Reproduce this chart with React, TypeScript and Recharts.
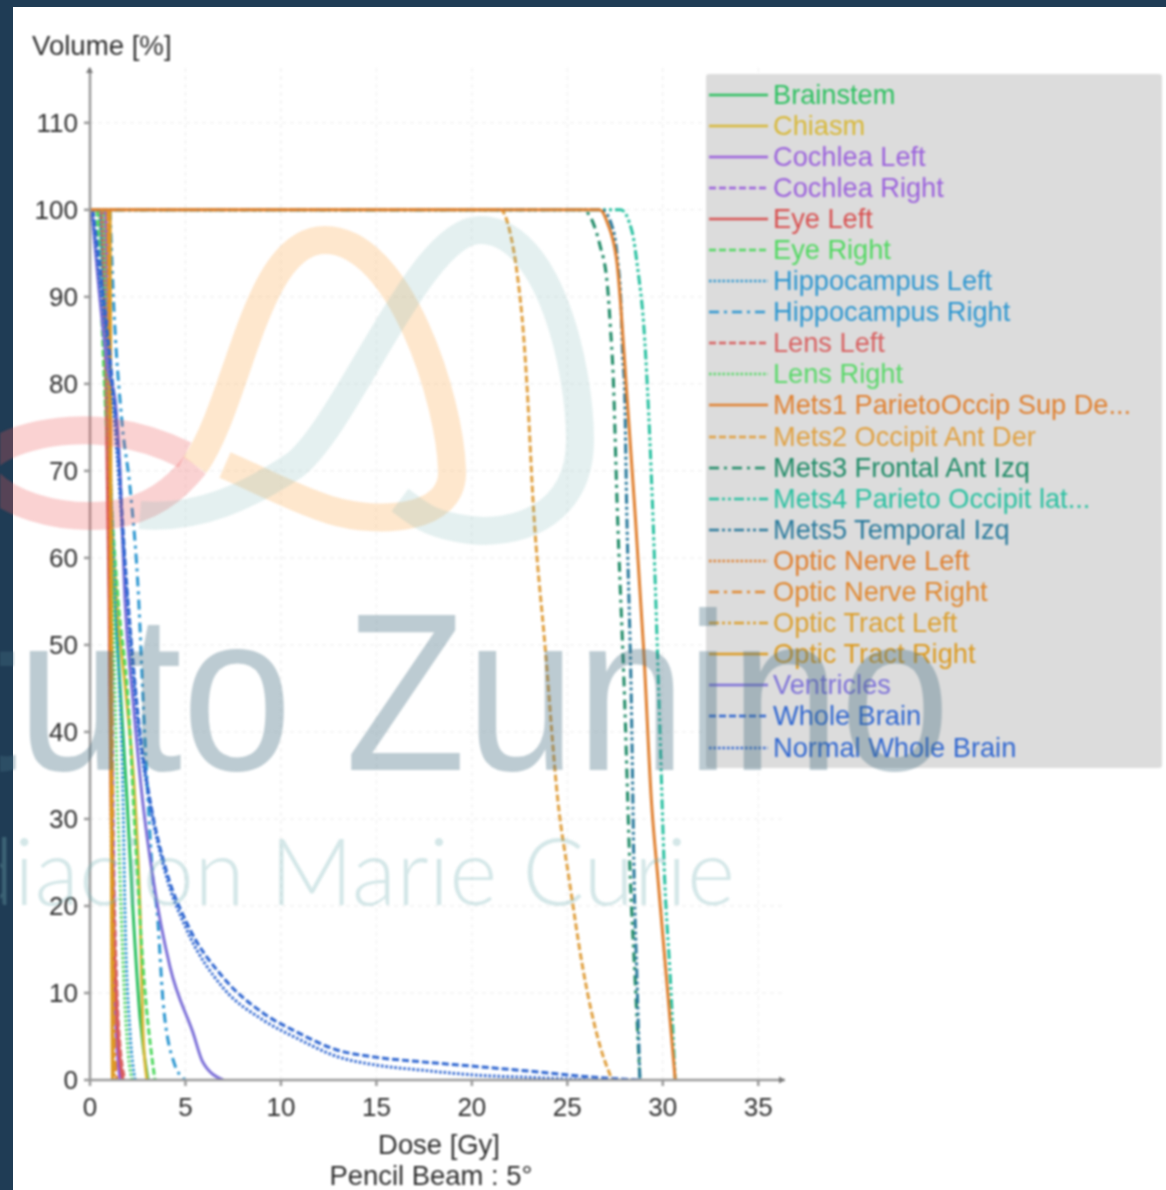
import { CartesianGrid, Legend, Line, LineChart, XAxis, YAxis } from "recharts";

const FONT = '"Liberation Sans", Arial, sans-serif';
const TEXT = "#2e2e2e";

const doseTicks = [0, 5, 10, 15, 20, 25, 30, 35];
const volumeTicks = [0, 10, 20, 30, 40, 50, 60, 70, 80, 90, 100, 110];

const brainstemDose = [0.52, 0.73, 0.94, 1.1, 1.31, 1.62, 1.94, 2.25, 2.62, 3.04];
const brainstemVolume = [100, 89.7, 78.2, 66.7, 55.2, 43.7, 32.2, 19.5, 7.2, 0];
const chiasmDose = [0.5, 0.8, 0.95, 1.1, 1.4, 1.9, 2.36, 2.62, 2.78, 2.99];
const chiasmVolume = [100, 90, 78, 67, 55, 44, 32, 19.5, 5.4, 0];
const cochleaLeftDose = [0.79, 0.94, 1.05, 1.15, 1.31, 1.57];
const cochleaLeftVolume = [100, 78, 55, 32, 9, 0];
const cochleaRightDose = [0.84, 1, 1.1, 1.2, 1.4, 1.65];
const cochleaRightVolume = [100, 78, 55, 32, 9, 0];
const eyeLeftDose = [0.6, 0.85, 1, 1.1, 1.2, 1.45, 1.73];
const eyeLeftVolume = [100, 78, 55, 32, 21, 6, 0];
const eyeRightDose = [0.37, 0.58, 0.79, 1.1, 1.47, 1.99, 2.36, 2.78, 3.4];
const eyeRightVolume = [100, 89.7, 78.2, 66.7, 55.2, 43.7, 28.4, 13, 0];
const hippoLeftDose = [0.52, 0.94, 1.31, 1.57, 1.73, 1.83, 2.1, 2.36];
const hippoLeftVolume = [100, 78.2, 55.2, 43.7, 32.2, 19.5, 5.4, 0];
const hippoRightDose = [1.05, 1.2, 1.68, 2.1, 2.55, 2.78, 3.04, 3.3, 3.51, 3.82, 4.4, 4.98];
const hippoRightVolume = [100, 91.2, 75.5, 68, 55.2, 43.7, 32.2, 23, 19.5, 9.2, 2, 0];
const lensLeftDose = [0.65, 0.88, 1.02, 1.12, 1.25, 1.5, 1.83];
const lensLeftVolume = [100, 78, 55, 32, 21, 6, 0];
const lensRightDose = [0.7, 0.95, 1.2, 1.45, 1.7, 2, 2.2];
const lensRightVolume = [100, 78, 55, 32, 15, 3, 0];
const mets1Dose = [0, 26.7, 27.1, 27.6, 27.8, 28.1, 28.5, 29, 29.4, 29.75, 30.2, 30.65];
const mets1Volume = [100, 100, 98.5, 93.9, 88.9, 79.3, 66.7, 49.4, 32.2, 23, 11.5, 0];
const mets2Dose = [0, 21.05, 21.5, 22, 22.4, 22.7, 22.9, 23.2, 23.85, 24.5, 25.1, 25.8, 26.7, 27.35];
const mets2Volume = [100, 100, 100, 97.4, 92.2, 85.8, 79.3, 66.7, 49.4, 32.2, 23, 13, 4, 0];
const mets3Dose = [0, 25.8, 26.35, 26.7, 27.1, 27.25, 27.4, 27.6, 28, 28.3, 28.55, 28.8];
const mets3Volume = [100, 100, 98.5, 96, 91.3, 86.7, 81, 66.7, 43.7, 23, 11.5, 0];
const mets4Dose = [0, 27.2, 27.8, 28.4, 28.7, 29, 29.2, 29.45, 29.8, 30.1, 30.4, 30.65];
const mets4Volume = [100, 100, 100, 97.4, 93, 86.8, 79.3, 66.7, 43.7, 23, 11.5, 0];
const mets5Dose = [0, 26.2, 26.8, 27.4, 27.65, 27.8, 27.9, 28, 28.1, 28.35, 28.5, 28.65, 28.8];
const mets5Volume = [100, 100, 100, 97.7, 93.9, 89.7, 83.1, 79.3, 66.7, 43.7, 23, 11.5, 0];
const opticNerveLeftDose = [0.9, 1, 1.05, 1.1, 1.15, 1.2, 1.3];
const opticNerveLeftVolume = [100, 78, 55, 32, 15, 5, 0];
const opticNerveRightDose = [0.95, 1.05, 1.12, 1.18, 1.22, 1.28, 1.4];
const opticNerveRightVolume = [100, 78, 55, 32, 15, 5, 0];
const opticTractLeftDose = [1, 1.06, 1.1, 1.14, 1.17, 1.2, 1.25];
const opticTractLeftVolume = [100, 78, 55, 32, 15, 5, 0];
const opticTractRightDose = [1.05, 1.08, 1.1, 1.12, 1.14, 1.16, 1.18];
const opticTractRightVolume = [100, 78, 55, 32, 15, 5, 0];
const ventriclesDose = [0.1, 0.52, 0.94, 1.31, 1.57, 1.83, 2.25, 2.75, 3.3, 4.19, 5.4, 5.92, 6.97];
const ventriclesVolume = [100, 89.7, 81.6, 78.2, 70, 55.2, 43.7, 32.2, 23.2, 13, 5.4, 2, 0];
const wholeBrainDose = [0.15, 0.7, 1.05, 1.47, 1.83, 2.2, 2.6, 3.14, 4.03, 5.08, 6.97, 9.06, 10.84, 12.94, 15.03, 17.3, 20, 23.6, 26.2, 28.8];
const wholeBrainVolume = [100, 90, 83, 72.4, 59.8, 49.4, 40.2, 32.2, 23.8, 18, 11.8, 7.7, 5.5, 3.45, 2.6, 2.1, 1.6, 0.9, 0.35, 0];
const normalBrainDose = [0.1, 0.6, 1, 1.4, 1.8, 2.15, 2.55, 3.1, 4, 5.08, 6.97, 9.06, 10.84, 12.94, 15.03, 17.3, 20, 23.6, 26.2];
const normalBrainVolume = [100, 90, 83, 72.4, 59.8, 49.4, 40.2, 32.2, 23.4, 17.2, 10.6, 6.9, 4.8, 2.7, 1.7, 1.15, 0.6, 0.25, 0];

const SOLID = undefined;
const DASH = "7 3";
const DOT = "2.5 2";
const DASH_DOT = "10 5 3 5";
const DASH_DOT_DOT = "10 3 3 3 3 3";

const series = [
  { name: "Brainstem", color: "#2cc060", dash: SOLID, dose: brainstemDose, volume: brainstemVolume },
  { name: "Chiasm", color: "#d8b838", dash: SOLID, dose: chiasmDose, volume: chiasmVolume },
  { name: "Cochlea Left", color: "#9a60dc", dash: SOLID, dose: cochleaLeftDose, volume: cochleaLeftVolume },
  { name: "Cochlea Right", color: "#9a60dc", dash: DASH, dose: cochleaRightDose, volume: cochleaRightVolume },
  { name: "Eye Left", color: "#d85050", dash: SOLID, dose: eyeLeftDose, volume: eyeLeftVolume },
  { name: "Eye Right", color: "#50d860", dash: DASH, dose: eyeRightDose, volume: eyeRightVolume },
  { name: "Hippocampus Left", color: "#2c96d0", dash: DOT, dose: hippoLeftDose, volume: hippoLeftVolume },
  { name: "Hippocampus Right", color: "#2c96d0", dash: DASH_DOT, dose: hippoRightDose, volume: hippoRightVolume },
  { name: "Lens Left", color: "#d86060", dash: DASH, dose: lensLeftDose, volume: lensLeftVolume },
  { name: "Lens Right", color: "#58d868", dash: DOT, dose: lensRightDose, volume: lensRightVolume },
  { name: "Mets1 ParietoOccip Sup De...", color: "#e08030", dash: SOLID, dose: mets1Dose, volume: mets1Volume },
  { name: "Mets2 Occipit Ant Der", color: "#e0a040", dash: DASH, dose: mets2Dose, volume: mets2Volume },
  { name: "Mets3 Frontal Ant Izq", color: "#1e8a66", dash: DASH_DOT, dose: mets3Dose, volume: mets3Volume },
  { name: "Mets4 Parieto Occipit lat...", color: "#28c0a0", dash: DASH_DOT_DOT, dose: mets4Dose, volume: mets4Volume },
  { name: "Mets5 Temporal Izq", color: "#2a7a9c", dash: DASH_DOT_DOT, dose: mets5Dose, volume: mets5Volume },
  { name: "Optic Nerve Left", color: "#e08030", dash: DOT, dose: opticNerveLeftDose, volume: opticNerveLeftVolume },
  { name: "Optic Nerve Right", color: "#e08830", dash: DASH_DOT, dose: opticNerveRightDose, volume: opticNerveRightVolume },
  { name: "Optic Tract Left", color: "#dca030", dash: DASH_DOT_DOT, dose: opticTractLeftDose, volume: opticTractLeftVolume },
  { name: "Optic Tract Right", color: "#dc9a20", dash: SOLID, dose: opticTractRightDose, volume: opticTractRightVolume },
  { name: "Ventricles", color: "#7c70d8", dash: SOLID, dose: ventriclesDose, volume: ventriclesVolume },
  { name: "Whole Brain", color: "#2f66d0", dash: DASH, dose: wholeBrainDose, volume: wholeBrainVolume },
  { name: "Normal Whole Brain", color: "#2f66d0", dash: DOT, dose: normalBrainDose, volume: normalBrainVolume },
];

// the orange Mets curves sit on top of the shared 100% plateau
const onTop = ["Mets2 Occipit Ant Der", "Mets1 ParietoOccip Sup De..."];
const drawOrder = [
  ...series.filter((s) => !onTop.includes(s.name)),
  ...onTop.map((name) => series.find((s) => s.name === name)!),
];
const legendOrder = series.map((s) => s.name);

function renderLegend({ payload }: any) {
  return (
    <div style={{ background: "#dcdcdc", borderRadius: 3, width: 456, height: 694, paddingTop: 5, boxSizing: "border-box" }}>
      {(payload ?? []).map((item: any) => (
        <div key={item.value} style={{ display: "flex", alignItems: "center", height: 31.1, color: item.color, fontFamily: FONT, fontSize: 27.2, whiteSpace: "nowrap" }}>
          <svg width={67} height={8} style={{ flex: "none" }}>
            <line x1={3} x2={62} y1={4} y2={4} stroke={item.color} strokeWidth={2.5} strokeDasharray={item.payload?.strokeDasharray} />
          </svg>
          {item.value}
        </div>
      ))}
    </div>
  );
}

function Watermark() {
  return (
    <svg width={1166} height={1190} style={{ position: "absolute", left: 0, top: 0, pointerEvents: "none" }}>
      <g fill="none" strokeWidth={28}>
        <path d="M-20 470 C-10 440 60 425 110 432 C140 436 165 445 185 455" stroke="rgba(238,90,90,0.27)" />
        <path d="M-20 470 C0 505 60 520 110 515 C150 510 175 490 195 465" stroke="rgba(238,90,90,0.27)" />
        <path d="M195 465 C240 400 255 240 325 240 C400 240 450 400 452 470 C455 520 380 525 330 510 C290 497 260 480 225 465" stroke="rgba(250,165,70,0.27)" />
        <path d="M140 515 C200 520 250 495 295 465 C350 420 420 230 480 230 C550 230 580 370 580 440 C580 520 510 535 470 530 C430 525 420 515 400 500" stroke="rgba(120,180,180,0.2)" />
      </g>
      <g fontFamily={FONT} fill="rgba(70,110,130,0.36)" fontSize={225}>
        <text x={292} y={770} textAnchor="end" textLength={693} lengthAdjust="spacingAndGlyphs">Instituto</text>
        <text x={950} y={770} textAnchor="end" textLength={605} lengthAdjust="spacingAndGlyphs">Zunino</text>
      </g>
      <text x={735} y={905} textAnchor="end" fontFamily='"Lato", sans-serif' fontWeight={300} fontSize={92} fill="rgba(120,180,185,0.32)">Radiacion Marie Curie</text>
    </svg>
  );
}

export default function App() {
  return (
    <div style={{ position: "absolute", left: 0, top: 0, width: 1166, height: 1190, background: "#1f3c55", overflow: "hidden" }}>
      <div style={{ position: "absolute", left: 13, top: 7, right: 0, bottom: 0, background: "#fff" }} />
      <div style={{ position: "absolute", left: 0, top: 0, filter: "blur(0.8px)" }}>
        <LineChart width={1166} height={1190} margin={{ top: 68, right: 381, bottom: 50, left: 30 }}>
          <CartesianGrid stroke="#ececec" strokeDasharray="4 4" syncWithTicks />
          <XAxis
            dataKey="dose"
            type="number"
            domain={[0, 36.4]}
            ticks={doseTicks}
            height={60}
            allowDataOverflow
            stroke="#999"
            strokeWidth={2.5}
            tickSize={6}
            tickMargin={12}
            tick={{ fontFamily: FONT, fontSize: 26, fill: TEXT }}
            label={{
              content: () => (
                <g fontFamily={FONT} fontSize={27.4} fill={TEXT} textAnchor="middle">
                  <text x={439} y={1154}>Dose [Gy]</text>
                  <text x={431} y={1185}>Pencil Beam : 5°</text>
                </g>
              ),
            }}
          />
          <YAxis
            type="number"
            domain={[0, 116.3]}
            ticks={volumeTicks}
            width={60}
            allowDataOverflow
            stroke="#999"
            strokeWidth={2.5}
            tickSize={6}
            tickMargin={6}
            tick={{ fontFamily: FONT, fontSize: 26, fill: TEXT }}
            label={{
              content: () => (
                <text x={32} y={55} fontFamily={FONT} fontSize={27.6} fill={TEXT}>Volume [%]</text>
              ),
            }}
          />
          {drawOrder.map((s) => (
            <Line
              key={s.name}
              name={s.name}
              data={s.dose.map((dose, i) => ({ dose, volume: s.volume[i] }))}
              dataKey="volume"
              type="monotone"
              stroke={s.color}
              strokeWidth={3}
              strokeDasharray={s.dash}
              dot={false}
              isAnimationActive={false}
            />
          ))}
          <Legend
            layout="vertical"
            align="center"
            verticalAlign="middle"
            content={renderLegend}
            itemSorter={(item: any) => legendOrder.indexOf(item.value)}
            wrapperStyle={{ position: "absolute", left: 706, top: 74, width: 456, height: 694, margin: 0 }}
          />
        </LineChart>
        <svg width={1166} height={1190} style={{ position: "absolute", left: 0, top: 0, pointerEvents: "none" }}>
          <path d="M86 73 L89.5 67 L93 73 Z" fill="#777" />
          <path d="M779 1076.5 L785 1080 L779 1083.5 Z" fill="#777" />
        </svg>
        <Watermark />
      </div>
    </div>
  );
}
